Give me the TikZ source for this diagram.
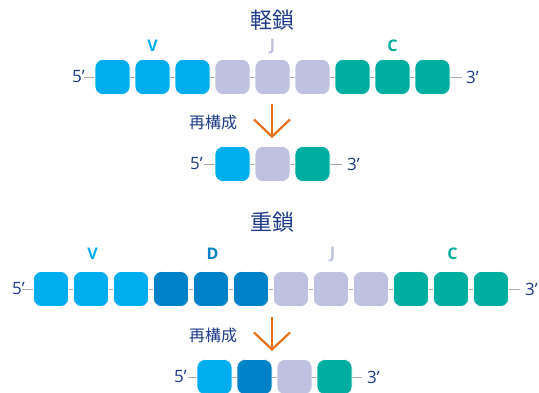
\documentclass[tikz,border=0pt]{standalone}
\usepackage{fontspec}
\setmainfont{Open Sans}
\newfontfamily\jp{Noto Sans CJK JP}
\usetikzlibrary{arrows.meta}
\definecolor{lblue}{RGB}{0,174,239}
\definecolor{dblue}{RGB}{0,130,200}
\definecolor{lav}{RGB}{190,193,223}
\definecolor{teal2}{RGB}{0,174,160}
\definecolor{navy}{RGB}{30,58,138}
\definecolor{gline}{RGB}{170,170,170}
\definecolor{orng}{RGB}{232,112,26}
\tikzset{
  seg/.style={rounded corners=8pt, minimum width=35pt, minimum height=35pt, inner sep=0pt, draw=white, line width=0.6pt},
  segV/.style={seg, fill=lblue},
  segD/.style={seg, fill=dblue},
  segJ/.style={seg, fill=lav},
  segC/.style={seg, fill=teal2},
  endlbl/.style={text=navy, font=\fontsize{17}{17}\selectfont, inner sep=0pt},
  ttl/.style={text=navy, font=\jp\fontsize{22}{22}\selectfont, inner sep=0pt},
  rec/.style={text=navy, font=\jp\fontsize{16}{16}\selectfont, inner sep=0pt},
  grp/.style={font=\bfseries\fontsize{16}{16}\selectfont, inner sep=0pt},
  bb/.style={gline, line width=1pt},
  arr/.style={orng, line width=2.2pt, -{Straight Barb[length=17pt,width=36pt,line width=2.2pt]}}
}
\begin{document}
\begin{tikzpicture}[x=1pt,y=-1pt]
\useasboundingbox (0,0) rectangle (539,392);
% ---------- light chain ----------
\node[ttl] (t1) at (272,20) {軽鎖};
\node[grp, text=lblue] (lv) at (152.5,46) {V};
\node[grp, text=lav] (lj) at (272.5,46) {J};
\node[grp, text=teal2] (lc) at (392.5,46) {C};
\coordinate (l0) at (84,77);
\coordinate (l1) at (462,77);
\draw[bb] (l0) -- (l1);
\node[endlbl, anchor=east] (l5) at ([xshift=1pt]l0) {5’};
\node[endlbl, anchor=west] (l3) at ([xshift=4pt]l1) {3’};
\foreach \i/\s in {0/segV,1/segV,2/segV,3/segJ,4/segJ,5/segJ,6/segC,7/segC,8/segC}{
  \node[\s] (L\i) at (112.5+\i*40,77) {};
}
\node[rec] (r1) at (213,122) {再構成};
\coordinate (a1s) at (272,104);
\coordinate (a1e) at (272,138);
\draw[arr] (a1s) -- (a1e);
\coordinate (m0) at (204,164);
\coordinate (m1) at (342,164);
\draw[bb] (m0) -- (m1);
\node[endlbl, anchor=east] (m5) at ([xshift=-1pt]m0) {5’};
\node[endlbl, anchor=west] (m3) at ([xshift=5pt]m1) {3’};
\node[segV] (M0) at (232.5,164) {};
\node[segJ] (M1) at (272.5,164) {};
\node[segC] (M2) at (312.5,164) {};
% ---------- heavy chain ----------
\node[ttl] (t2) at (272,222) {重鎖};
\node[grp, text=lblue] (hv) at (92.5,254) {V};
\node[grp, text=dblue] (hd) at (212.5,254) {D};
\node[grp, text=lav] (hj) at (332.5,254) {J};
\node[grp, text=teal2] (hc) at (452.5,254) {C};
\coordinate (h0) at (22,289);
\coordinate (h1) at (520,289);
\draw[bb] (h0) -- (h1);
\node[endlbl, anchor=east] (h5) at ([xshift=3pt]h0) {5’};
\node[endlbl, anchor=west] (h3) at ([xshift=5pt]h1) {3’};
\foreach \i/\s in {0/segV,1/segV,2/segV,3/segD,4/segD,5/segD,6/segJ,7/segJ,8/segJ,9/segC,10/segC,11/segC}{
  \node[\s] (H\i) at (51+\i*40,289) {};
}
\node[rec] (r2) at (213,335) {再構成};
\coordinate (a2s) at (272,317);
\coordinate (a2e) at (272,351);
\draw[arr] (a2s) -- (a2e);
\coordinate (n0) at (188,377);
\coordinate (n1) at (362,377);
\draw[bb] (n0) -- (n1);
\node[endlbl, anchor=east] (n5) at ([xshift=-1pt]n0) {5’};
\node[endlbl, anchor=west] (n3) at ([xshift=5pt]n1) {3’};
\node[segV] (N0) at (214.5,377) {};
\node[segD] (N1) at (254.5,377) {};
\node[segJ] (N2) at (294.5,377) {};
\node[segC] (N3) at (334.5,377) {};
\end{tikzpicture}
\end{document}
